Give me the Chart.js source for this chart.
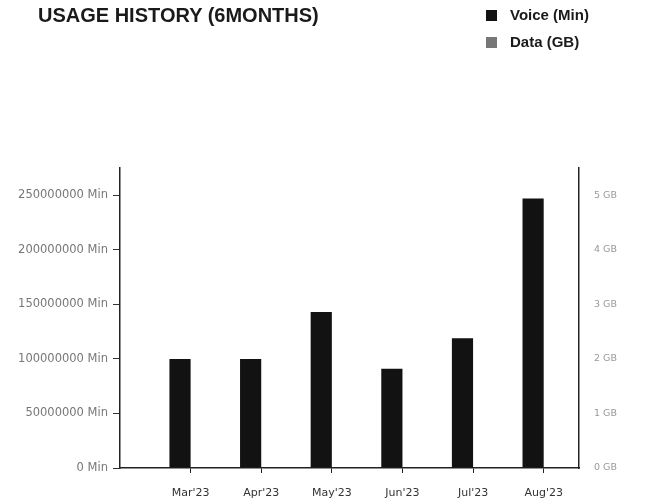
<!DOCTYPE html>
<html>
<head>
<meta charset="utf-8">
<script src="https://cdn.jsdelivr.net/npm/chart.js@4"></script>
<style>
  html, body { margin: 0; padding: 0; background: #fff; }
  #wrap { position: relative; width: 665px; height: 501px; }
  #title { position: absolute; left: 38px; top: 4px; font: bold 20px "Liberation Sans", Arial, sans-serif; color: #1a1a1a; white-space: nowrap; }
  #legend { position: absolute; left: 486px; top: 5px; font: bold 15px "Liberation Sans", Arial, sans-serif; color: #1a1a1a; }
  #legend div { height: 27px; line-height: 20px; white-space: nowrap; }
  #legend span { display: inline-block; width: 11px; height: 11px; margin-right: 13px; vertical-align: -1px; }
</style>
</head>
<body>
<div id="wrap">
  <canvas id="usageChart" width="665" height="501"></canvas>
  <div id="title">USAGE HISTORY (6MONTHS)</div>
  <div id="legend"></div>
</div>
<script>
(() => {
  const months   = ["Mar'23", "Apr'23", "May'23", "Jun'23", "Jul'23", "Aug'23"];
  const voiceMin = [100000000, 100000000, 143000000, 91000000, 119000000, 247000000];
  const dataGB   = [0, 0, 0, 0, 0, 0];
  const minTicks = [0, 50000000, 100000000, 150000000, 200000000, 250000000];
  const gbTicks  = [0, 1, 2, 3, 4, 5];

  const series = [
    { label: 'Voice (Min)', values: voiceMin, color: '#121212', axis: 'y' },
    { label: 'Data (GB)',   values: dataGB,   color: '#777777', axis: 'y1' },
  ];

  // legend, stacked like the print
  const legend = document.getElementById('legend');
  series.forEach(s => {
    const row = document.createElement('div');
    row.innerHTML = '<span style="background:' + s.color + '"></span>' + s.label;
    legend.appendChild(row);
  });

  const keepTicks = list => scale => {
    scale.ticks = list.map(v => ({ value: v }));
  };

  new Chart(document.getElementById('usageChart'), {
    type: 'bar',
    data: {
      datasets: series.map(s => ({
        label: s.label,
        data: s.values.map((v, i) => ({ x: i + 1, y: v })),
        backgroundColor: s.color,
        yAxisID: s.axis,
        categoryPercentage: 0.6,
        barPercentage: 1.0,
      })),
    },
    options: {
      responsive: false,
      animation: false,
      layout: { padding: { top: 168, bottom: 0, left: 0, right: 0 } },
      plugins: { legend: { display: false }, tooltip: { enabled: false } },
      scales: {
        x: {
          type: 'linear',
          min: 0,
          max: 6.5,
          offset: false,
          afterBuildTicks: keepTicks(months.map((m, i) => i + 1)),
          afterFit: s => { s.height = 33; },
          border: { display: true, color: '#222', width: 1.5 },
          grid: { display: true, drawOnChartArea: false, offset: false, color: '#222', tickLength: 5 },
          ticks: {
            color: '#333',
            padding: 14,
            maxRotation: 0,
            font: { family: 'DejaVu Sans', size: 11 },
            callback: v => months[v - 1] || '',
          },
        },
        y: {
          position: 'left',
          min: 0,
          max: 275000000,
          afterBuildTicks: keepTicks(minTicks),
          afterFit: s => { s.width = 120; },
          border: { display: true, color: '#222', width: 1.5 },
          grid: { display: true, drawOnChartArea: false, color: '#333', tickLength: 7 },
          ticks: {
            color: '#777',
            padding: 5,
            font: { family: 'DejaVu Sans', size: 11.5 },
            callback: v => v + ' Min',
          },
        },
        y1: {
          position: 'right',
          min: 0,
          max: 5.5,
          afterBuildTicks: keepTicks(gbTicks),
          afterFit: s => { s.width = 86; },
          border: { display: true, color: '#222', width: 1.5 },
          grid: { display: false },
          ticks: {
            color: '#999',
            padding: 7,
            font: { family: 'DejaVu Sans', size: 9.5 },
            callback: v => v + ' GB',
          },
        },
      },
    },
  });
})();
</script>
</body>
</html>
